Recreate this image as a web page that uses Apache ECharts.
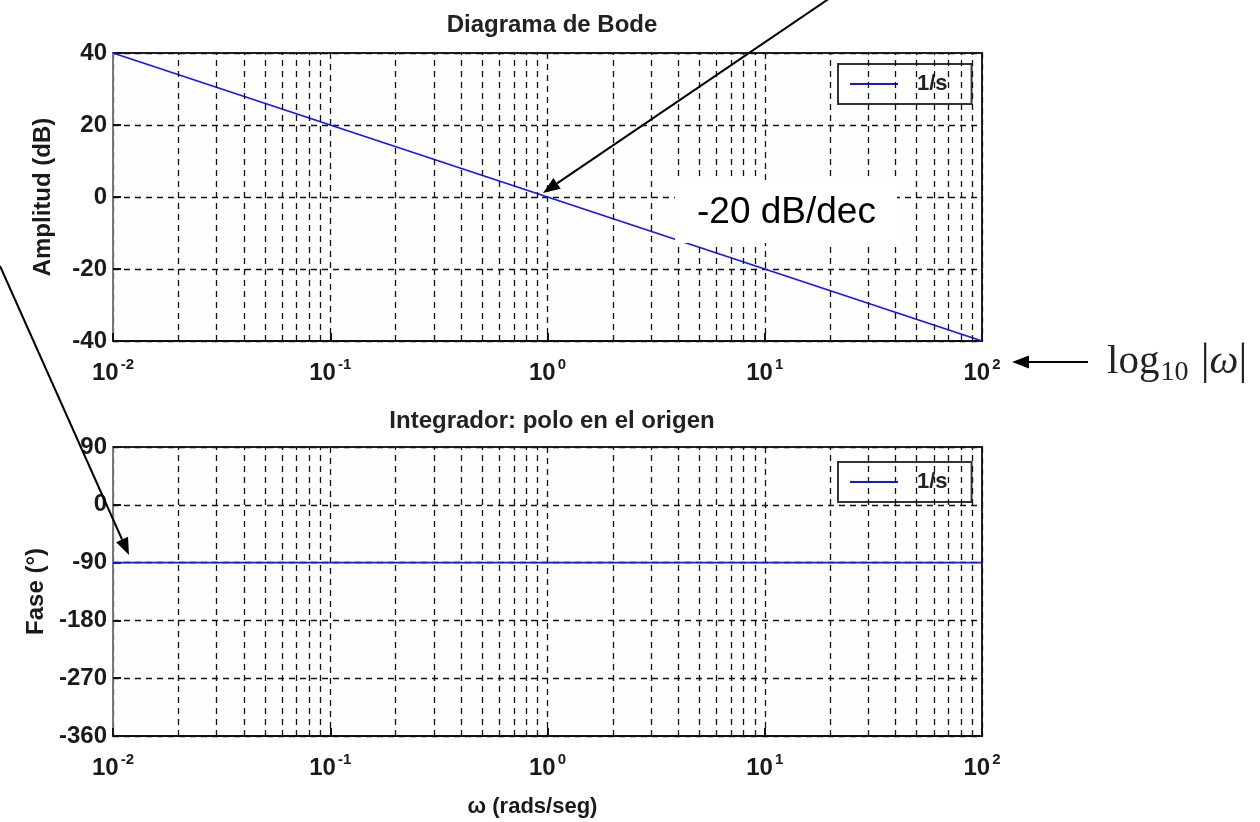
<!DOCTYPE html>
<html>
<head>
<meta charset="utf-8">
<script src="https://cdn.jsdelivr.net/npm/echarts@6/dist/echarts.min.js"></script>
<style>
  html, body { margin: 0; padding: 0; background: #fff; }
  #chart { width: 1260px; height: 822px; }
</style>
</head>
<body>
<div id="chart"></div>
<script>
// datos
var freq = [0.01, 0.1, 1, 10, 100];
var magDb = [40, 20, 0, -20, -40];
var phaseDeg = [-90, -90, -90, -90, -90];
var magTicks = [-40, -20, 0, 20, 40];
var phaseTicks = [-360, -270, -180, -90, 0, 90];
var serieName = '1/s';

var fuente = "'Liberation Sans', Arial, sans-serif";
var serif = "'Liberation Serif', 'DejaVu Serif', serif";
var gridColor = '#111';

// lineas de rejilla menores (2..9 por decada)
function menores() {
    var res = [];
    for (var k = -2; k < 2; k++) {
        for (var m = 2; m <= 9; m++) {
            res.push({ xAxis: m * Math.pow(10, k) });
        }
    }
    return res;
}

function flecha(x1, y1, x2, y2) {
    var dx = x2 - x1, dy = y2 - y1;
    var len = Math.sqrt(dx * dx + dy * dy);
    var ux = dx / len, uy = dy / len;
    var hl = 17, hw = 6.5;
    var bx = x2 - ux * hl, by = y2 - uy * hl;
    return [
        { type: 'line', shape: { x1: x1, y1: y1, x2: bx, y2: by },
          style: { stroke: '#000', lineWidth: 2 }, z: 100 },
        { type: 'polygon', shape: { points: [[x2, y2], [bx - uy * hw, by + ux * hw], [bx + uy * hw, by - ux * hw]] },
          style: { fill: '#000' }, z: 100 }
    ];
}

function ejeX(idx, conNombre) {
    var ax = {
        type: 'log',
        logBase: 10,
        gridIndex: idx,
        min: 0.01,
        max: 100,
        splitNumber: 4,
        axisLine: { show: true, onZero: false, lineStyle: { color: '#111', width: 2 } },
        axisTick: { show: true, inside: true, length: 8, lineStyle: { color: '#111', width: 2 } },
        splitLine: { show: true, lineStyle: { color: gridColor, type: [6, 5], width: 1.3 } },
        axisLabel: {
            margin: 16,
            formatter: function (v) {
                var e = Math.round(Math.log(v) / Math.LN10);
                return '{b|10}{s|' + e + '}';
            },
            rich: {
                b: { fontSize: 24, fontWeight: 'bold', fontFamily: fuente, color: '#1a1a1a' },
                s: { fontSize: 15, fontWeight: 'bold', fontFamily: fuente, color: '#1a1a1a', padding: [0, 0, 18, 2] }
            }
        }
    };
    if (conNombre) {
        ax.name = '\u03c9 (rads/seg)';
        ax.nameLocation = 'middle';
        ax.nameGap = 60;
        ax.nameTextStyle = { fontSize: 22, fontWeight: 'bold', fontFamily: fuente, color: '#1a1a1a', padding: [0, 30, 0, 0] };
    }
    return ax;
}

function ejeY(idx, ticks, nombre, intervalo) {
    return {
        type: 'value',
        gridIndex: idx,
        min: ticks[0],
        max: ticks[ticks.length - 1],
        interval: intervalo,
        name: nombre,
        nameLocation: 'middle',
        nameGap: 58,
        nameTextStyle: { fontSize: 24, fontWeight: 'bold', fontFamily: fuente, color: '#1a1a1a' },
        axisLine: { show: true, onZero: false, lineStyle: { color: '#777', width: 2 } },
        axisTick: { show: true, inside: true, length: 8, lineStyle: { color: '#111', width: 2 } },
        splitLine: { show: true, lineStyle: { color: gridColor, type: [6, 5], width: 1.3 } },
        axisLabel: { margin: 6, fontSize: 24, fontWeight: 'bold', fontFamily: fuente, color: '#1a1a1a' }
    };
}

function leyenda(top) {
    return {
        data: [serieName],
        left: 838,
        top: top,
        orient: 'vertical',
        backgroundColor: '#fff',
        borderColor: '#333',
        borderWidth: 2,
        borderRadius: 0,
        padding: [9, 24, 9, 12],
        icon: 'rect',
        itemWidth: 48,
        itemHeight: 2,
        formatter: '{a|' + serieName + '}',
        textStyle: {
            rich: { a: { fontSize: 22, fontWeight: 'bold', fontFamily: fuente, color: '#222', lineHeight: 22, padding: [0, 0, 0, 14] } }
        }
    };
}

function serie(idx, valores) {
    return {
        name: serieName,
        type: 'line',
        xAxisIndex: idx,
        yAxisIndex: idx,
        symbol: 'none',
        lineStyle: { color: '#1414ff', width: 1.8 },
        itemStyle: { color: '#1414ff' },
        data: freq.map(function (f, i) { return [f, valores[i]]; }),
        markLine: {
            silent: true,
            symbol: ['none', 'none'],
            label: { show: false },
            lineStyle: { color: gridColor, type: [6, 5], width: 1.3 },
            data: menores()
        },
        z: 3
    };
}

var graficos = [
    { type: 'rect', shape: { x: 675, y: 180, width: 222, height: 63 }, style: { fill: '#fff' }, z: 90 },
    { type: 'text', x: 697, y: 213, z: 101,
      style: { text: '-20 dB/dec', fontSize: 37, fontFamily: fuente, fill: '#000', verticalAlign: 'middle' } },
    { type: 'text', x: 1107, y: 362, z: 101,
      style: {
          text: '{a|log}{b|10}{a| }{c||}{d|\u03c9}{c||}',
          verticalAlign: 'middle',
          rich: {
              a: { fontSize: 41, fontFamily: serif, fill: '#222' },
              b: { fontSize: 28, fontFamily: serif, fill: '#222', padding: [22, 2, 0, 1] },
              c: { fontSize: 44, fontFamily: serif, fill: '#222' },
              d: { fontSize: 41, fontStyle: 'italic', fontFamily: serif, fill: '#222' }
          }
      } }
].concat(flecha(830, -2, 543, 193))
 .concat(flecha(0, 266, 129, 555))
 .concat(flecha(1088, 362, 1012, 362));

var myChart = echarts.init(document.getElementById('chart'));
myChart.setOption({
    backgroundColor: '#fff',
    animation: false,
    title: [
        { text: 'Diagrama de Bode', left: 547, top: 8, textAlign: 'center',
          textStyle: { fontSize: 24, fontWeight: 'bold', fontFamily: fuente, color: '#222' } },
        { text: 'Integrador: polo en el origen', left: 547, top: 404, textAlign: 'center',
          textStyle: { fontSize: 24, fontWeight: 'bold', fontFamily: fuente, color: '#222' } }
    ],
    grid: [
        { left: 113, top: 53, width: 869, height: 288, show: true, borderColor: '#222', borderWidth: 2, backgroundColor: '#fefefe' },
        { left: 113, top: 447, width: 869, height: 289, show: true, borderColor: '#222', borderWidth: 2, backgroundColor: '#fefefe' }
    ],
    xAxis: [ejeX(0, false), ejeX(1, true)],
    yAxis: [ejeY(0, magTicks, 'Amplitud (dB)', 20), ejeY(1, phaseTicks, 'Fase (\u00b0)', 90)],
    legend: [leyenda(64), leyenda(462)],
    series: [serie(0, magDb), serie(1, phaseDeg)],
    graphic: graficos
});
</script>
</body>
</html>
